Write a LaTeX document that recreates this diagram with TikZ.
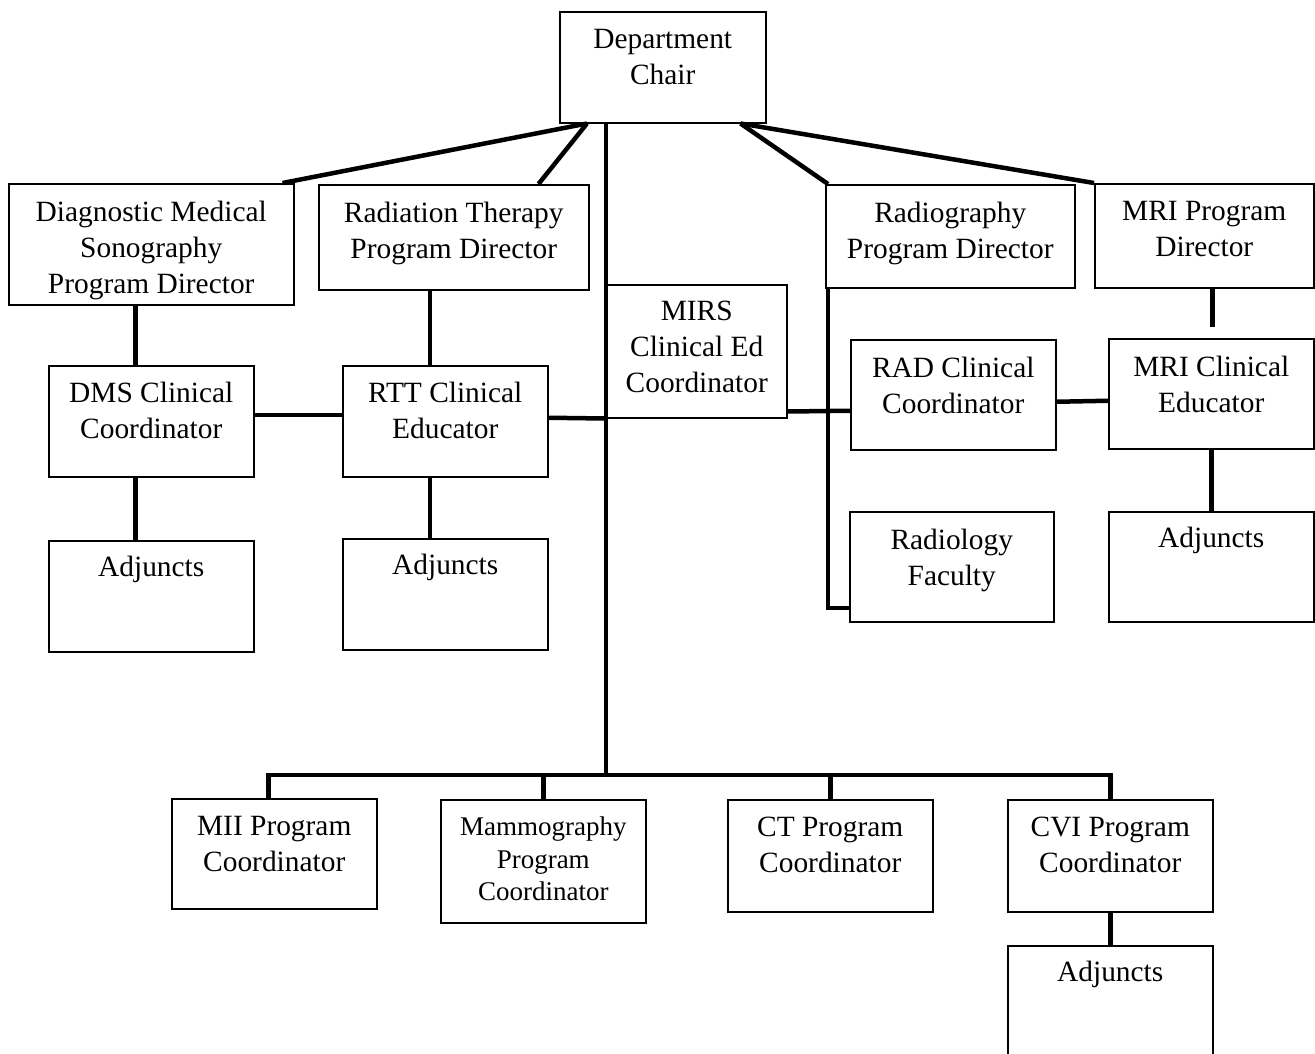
\documentclass[tikz,border=0pt]{standalone}
\usepackage{fontspec}
\setmainfont{Liberation Serif}
\newcommand\orgfont{\fontsize{29.4}{36}\selectfont}
\newcommand\smallorgfont{\fontsize{27}{32.5}\selectfont}
\tikzset{
  unit/.style={draw, line width=1.5pt, anchor=north west, inner sep=0pt},
  caption/.style={anchor=north, align=center, inner sep=0pt, yshift=-18pt, font=\orgfont},
  link/.style={line width=4.5pt},
}
\begin{document}
\begin{tikzpicture}[x=1pt, y=-1pt]
    \clip (0,0) rectangle (1315,1053);

    % top of the chart
    \node[unit, minimum width=206pt, minimum height=111pt, label={[caption]north:{Department\\Chair}}] (chair) at (559,11) {};
    \node[unit, minimum width=285pt, minimum height=121pt, label={[caption]north:{Diagnostic Medical\\Sonography\\Program Director}}] (dms) at (8,183) {};
    \node[unit, minimum width=270pt, minimum height=105pt, label={[caption]north:{Radiation Therapy\\Program Director}}] (rtt) at (318,184) {};
    \node[unit, minimum width=180pt, minimum height=133pt, label={[caption, yshift=1pt]north:{MIRS\\Clinical Ed\\Coordinator}}] (mirs) at (606,284) {};
    \node[unit, minimum width=249pt, minimum height=103pt, label={[caption]north:{Radiography\\Program Director}}] (rad) at (825,184) {};
    \node[unit, minimum width=219pt, minimum height=104pt, label={[caption]north:{MRI Program\\Director}}] (mri) at (1094,183) {};

    % clinical staff
    \node[unit, minimum width=205pt, minimum height=111pt, label={[caption, yshift=1pt]north:{DMS Clinical\\Coordinator}}] (dmscc) at (48,365) {};
    \node[unit, minimum width=205pt, minimum height=111pt, label={[caption, yshift=1pt]north:{RTT Clinical\\Educator}}] (rttce) at (342,365) {};
    \node[unit, minimum width=205pt, minimum height=110pt, label={[caption]north:{RAD Clinical\\Coordinator}}] (radcc) at (850,339) {};
    \node[unit, minimum width=205pt, minimum height=110pt, label={[caption]north:{MRI Clinical\\Educator}}] (mrice) at (1108,338) {};

    \node[unit, minimum width=205pt, minimum height=111pt, label={[caption, yshift=2pt]north:Adjuncts}] (dmsadj) at (48,540) {};
    \node[unit, minimum width=205pt, minimum height=111pt, label={[caption, yshift=2pt]north:Adjuncts}] (rttadj) at (342,538) {};
    \node[unit, minimum width=204pt, minimum height=110pt, label={[caption]north:{Radiology\\Faculty}}] (radfac) at (849,511) {};
    \node[unit, minimum width=205pt, minimum height=110pt, label={[caption, yshift=2pt]north:Adjuncts}] (mriadj) at (1108,511) {};

    % program coordinators
    \node[unit, minimum width=205pt, minimum height=110pt, label={[caption]north:{MII Program\\Coordinator}}] (mii) at (171,798) {};
    \node[unit, minimum width=205pt, minimum height=123pt, label={[caption, font=\smallorgfont]north:{Mammography\\Program\\Coordinator}}] (mammo) at (440,799) {};
    \node[unit, minimum width=205pt, minimum height=112pt, label={[caption]north:{CT Program\\Coordinator}}] (ct) at (727,799) {};
    \node[unit, minimum width=205pt, minimum height=112pt, label={[caption]north:{CVI Program\\Coordinator}}] (cvi) at (1007,799) {};
    \node[unit, minimum width=205pt, minimum height=140pt, label={[caption, yshift=2pt]north:Adjuncts}] (cviadj) at (1007,945) {};

    \coordinate (bus) at (606,775);
    \coordinate (stub) at ([xshift=8pt, yshift=-38pt]mri.south);

    \draw[link] ([xshift=28pt]chair.south west) -- ([xshift=-12pt]dms.north east);
    \draw[link] ([xshift=28pt]chair.south west) -- ([xshift=-51pt]rtt.north east);
    \draw[link] ([xshift=-26pt]chair.south east) -- ([xshift=3pt]rad.north west);
    \draw[link] ([xshift=-26pt]chair.south east) -- (mri.north west);
    \draw[link] (chair.south -| mirs.west) -- (bus);

    \draw[link] ([xshift=-16pt]dms.south) -- ([xshift=-16pt]dmscc.north);
    \draw[link] ([xshift=-16pt]dmscc.south) -- ([xshift=-16pt]dmsadj.north);
    \draw[link] ([xshift=-24pt]rtt.south) -- ([xshift=-15.5pt]rttce.north);
    \draw[link] ([xshift=-15.5pt]rttce.south) -- ([xshift=-15.5pt]rttadj.north);
    \draw[link] ([yshift=6.5pt]dmscc.east) -- ([yshift=6.5pt]rttce.west);
    \draw[link] ([yshift=3.5pt]rttce.east) -- (mirs.south west);

    \draw[link] ([yshift=7pt]mirs.south east) -- ([yshift=-16pt]radcc.west);
    \draw[link] ([xshift=3pt]rad.south west) |- ([yshift=-41pt]radfac.west);
    \draw[link] ([yshift=-7pt]radcc.east) -- ([yshift=-7pt]mrice.west);
    \draw[link] ([xshift=8pt]mri.south) -- (stub);
    \draw[link] (mrice.south) -- (mriadj.north);

    \draw[link] ([xshift=-6pt]mii.north) |- (bus) -| (cvi.north);
    \draw[link] (mammo.north) -- (mammo.north |- bus);
    \draw[link] (ct.north) -- (ct.north |- bus);
    \draw[link] (cvi.south) -- (cviadj.north);
\end{tikzpicture}
\end{document}
